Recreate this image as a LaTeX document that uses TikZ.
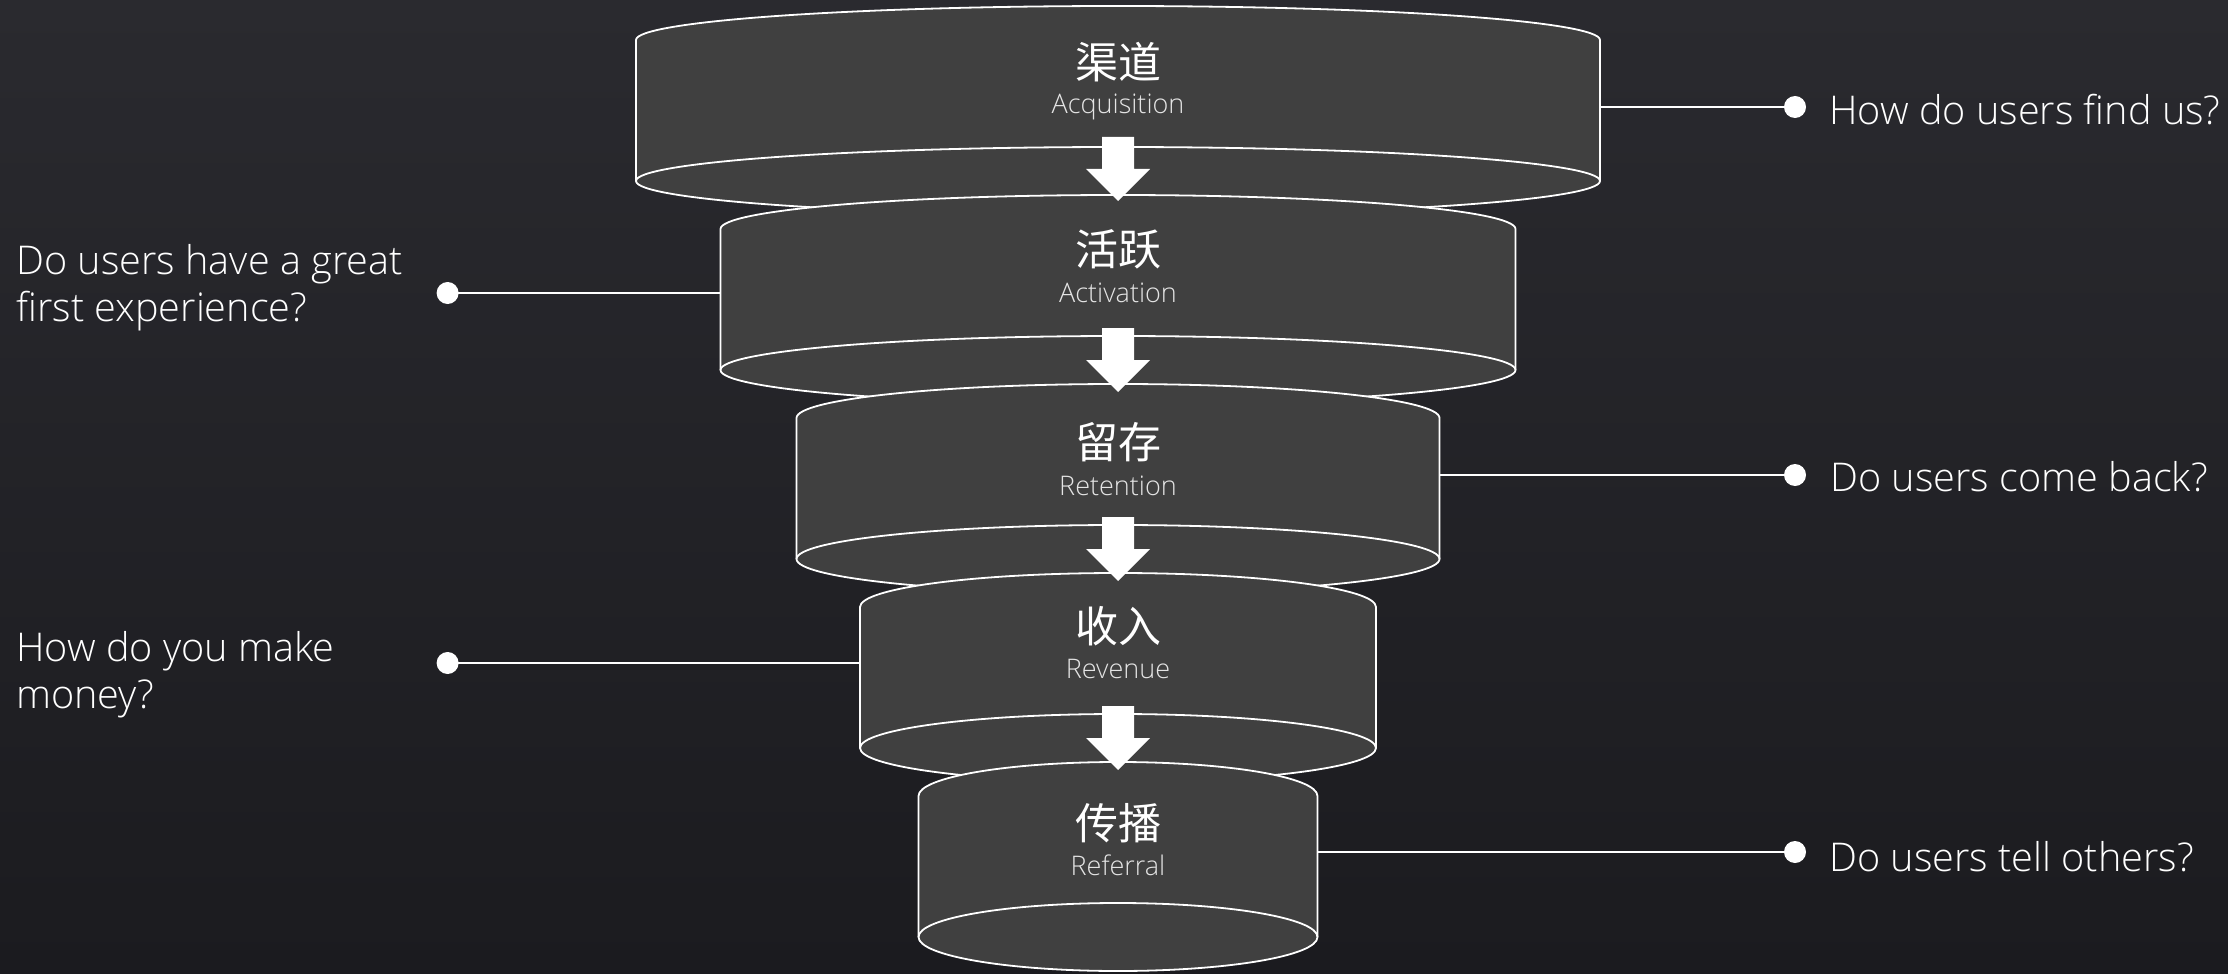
\documentclass[tikz,border=0pt]{standalone}
\usepackage{fontspec}
\setmainfont{Open Sans}[UprightFont={* Light}]
\newfontfamily\cjk{Noto Sans CJK SC}
\usetikzlibrary{calc}
\definecolor{bgtop}{RGB}{42,42,47}
\definecolor{bgbot}{RGB}{27,27,31}
\definecolor{cylfill}{RGB}{64,64,64}
\definecolor{subtxt}{RGB}{228,228,228}
\newcommand{\funnelcyl}[3]{% #1 top y, #2 bottom y, #3 half width (px)
  \pgfmathsetmacro\rxp{#3/2}
  \fill[cylfill] (1118-#3,#1) -- (1118-#3,#2)
      arc[start angle=180,end angle=360,x radius=\rxp pt,y radius=17pt]
      -- (1118+#3,#1)
      arc[start angle=0,end angle=180,x radius=\rxp pt,y radius=17pt] -- cycle;
  \draw[cylline] (1118-#3,#2) -- (1118-#3,#1)
      arc[start angle=180,end angle=0,x radius=\rxp pt,y radius=17pt]
      -- (1118+#3,#2);
  \draw[cylline] (1118,#2) ellipse[x radius=\rxp pt,y radius=17pt];
}
\begin{document}
\begin{tikzpicture}[x=0.5pt,y=-0.5pt,
  cylline/.style={draw=white,line width=0.9pt,line join=round},
  link/.style={draw=white,line width=0.8pt},
  dot/.style={circle,fill=white,inner sep=0pt,minimum size=11pt},
  titlecn/.style={text=white,font=\cjk\fontsize{21.5}{24}\selectfont,inner sep=0pt},
  titleen/.style={text=subtxt,font=\fontsize{13.5}{16}\selectfont,inner sep=0pt,anchor=base},
  question/.style={text=white,font=\fontsize{19.8}{23.5}\selectfont,inner sep=0pt,align=left},
  downarrow/.pic={\fill[white] (-16,0) -- (16,0) -- (16,32) -- (32,32) -- (0,64) -- (-32,32) -- (-16,32) -- cycle;}
]
\useasboundingbox (0,0) rectangle (2228,974);
\shade[top color=bgtop,bottom color=bgbot] (0,0) rectangle (2228,974);

% cylinders, top to bottom
\funnelcyl{40}{181}{482}
\funnelcyl{229}{370}{397.5}
\funnelcyl{418}{559}{321.5}
\funnelcyl{607}{748}{258}
\funnelcyl{796}{937}{199.5}

% arrows between stages
\pic at (1118,137) {downarrow};
\pic at (1118,328) {downarrow};
\pic at (1118,517) {downarrow};
\pic at (1118,706) {downarrow};

% titles
\node[titlecn] (t1) at (1118,62) {渠道};
\node[titleen] (s1) at (1118,114) {Acquisition};
\node[titlecn] (t2) at (1118,249) {活跃};
\node[titleen] (s2) at (1118,302) {Activation};
\node[titlecn] (t3) at (1118,442) {留存};
\node[titleen] (s3) at (1118,495) {Retention};
\node[titlecn] (t4) at (1118,626) {收入};
\node[titleen] (s4) at (1118,678) {Revenue};
\node[titlecn] (t5) at (1118,823) {传播};
\node[titleen] (s5) at (1118,875) {Referral};

% connector anchor points on cylinder walls
\coordinate (e1) at (1600,107);
\coordinate (e2) at (720.5,293);
\coordinate (e3) at (1439.5,475);
\coordinate (e4) at (860,663);
\coordinate (e5) at (1317.5,852);

% dots
\node[dot] (d1) at (1795,107) {};
\node[dot] (d2) at (447.6,293) {};
\node[dot] (d3) at (1795,475) {};
\node[dot] (d4) at (447.6,663) {};
\node[dot] (d5) at (1795,852) {};

\draw[link] (e1) -- (d1.center);
\draw[link] (e2) -- (d2.center);
\draw[link] (e3) -- (d3.center);
\draw[link] (e4) -- (d4.center);
\draw[link] (e5) -- (d5.center);

% questions
\node[question,anchor=base west] (q1) at (1829,125) {How do users find us?};
\node[question,anchor=base west] (q2) at (16,321) {Do users have a great\\first experience?};
\node[question,anchor=base west] (q3) at (1830,491) {Do users come back?};
\node[question,anchor=base west] (q4) at (16,708) {How do you make\\money?};
\node[question,anchor=base west] (q5) at (1829,871) {Do users tell others?};
\end{tikzpicture}
\end{document}
